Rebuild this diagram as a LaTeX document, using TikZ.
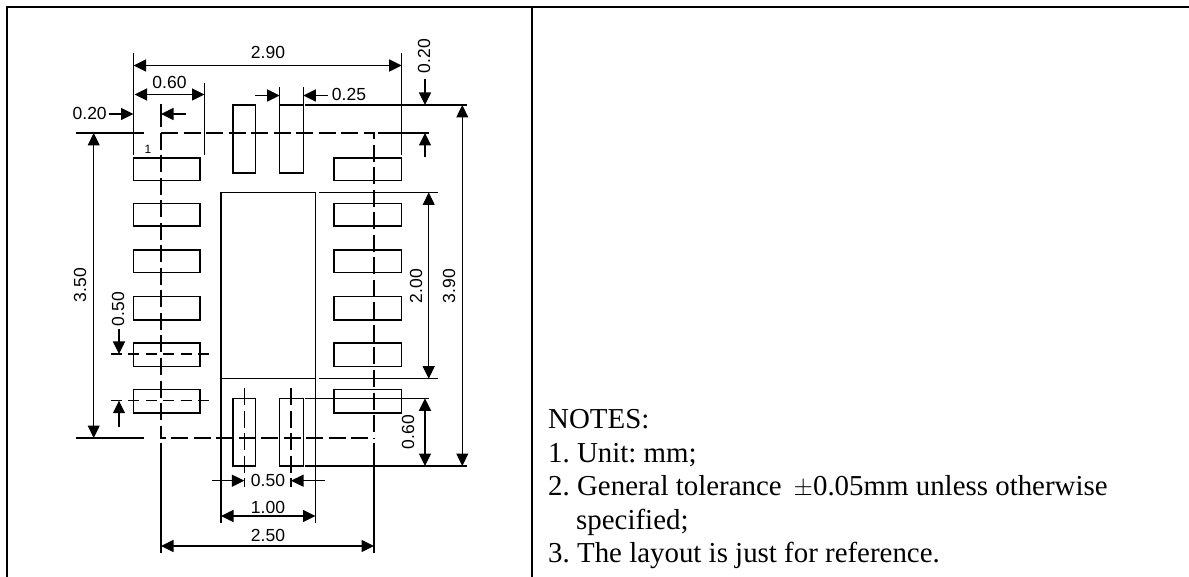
\documentclass[tikz,border=0pt]{standalone}
\usepackage{fontspec}
\setmainfont{Liberation Serif}
\newfontfamily\dimfont{Liberation Sans}
\usetikzlibrary{arrows.meta}
\tikzset{
  x=1pt,y=-1pt,
  frameline/.style={line width=2pt,black},
  thin line/.style={line width=1.2pt,black},
  padbox/.style={thin line},
  extline/.style={thin line},
  centerline/.style={thin line,dash pattern=on 17pt off 5.5pt},
  shortdash/.style={thin line,dash pattern=on 11pt off 6.5pt},
  dimline/.style={thin line,-{Triangle[length=12.5pt,width=12pt]}},
  dimboth/.style={thin line,{Triangle[length=12.5pt,width=12pt]}-{Triangle[length=12.5pt,width=12pt]}},
  dimtext/.style={font=\dimfont\fontsize{17.5}{20}\selectfont,inner sep=0pt,anchor=base,text=black},
  dimrot/.style={dimtext,rotate=90},
  notetext/.style={font=\frenchspacing\fontsize{28.9}{33.5}\selectfont,inner sep=0pt,anchor=base west,text=black},
}
\begin{document}
\begin{tikzpicture}
\useasboundingbox (0,0) rectangle (1189,577);
% frame
\draw[frameline] (7,577) -- (7,7) -- (1189,7);
\draw[frameline] (532,7) -- (532,577);
% pads
\foreach \y/\h in {158/22.5,203.5/22.5,250/22.5,296.5/23.5,343/23.5,389.5/23.5}{
  \draw[padbox] (133.5,\y) rectangle +(66.5,\h);
  \draw[padbox] (334,\y) rectangle +(67.7,\h);
}
\foreach \x/\w in {233/22.5,279.7/23.6}{
  \draw[padbox] (\x,105) rectangle +(\w,68);
  \draw[padbox] (\x,398.3) rectangle +(\w,67.7);
}
% exposed pad
\draw[extline] (221,192.5) -- (315.5,192.5);
\draw[extline] (221,378.7) -- (315.5,378.7);
\draw[extline] (221,192.5) -- (221,522.7);
\draw[extline] (315.5,192.5) -- (315.5,522.7);
\draw[extline] (319,192.5) -- (438,192.5);
\draw[extline] (319,378.7) -- (438,378.7);
% outline
\draw[centerline] (161,133) -- (374,133) -- (374,438);
\draw[centerline] (161,133) -- (161,438) -- (368,438);
\draw[extline] (75.7,133) -- (144,133);
\draw[extline] (75.7,438) -- (144,438);
\draw[extline] (378,133) -- (429,133);
\draw[extline] (161,104) -- (161,127);
\draw[extline] (161,443) -- (161,553.3);
\draw[extline] (374,443) -- (374,553.3);
% extension lines
\draw[extline] (133.5,53) -- (133.5,155);
\draw[extline] (204.5,83) -- (204.5,155);
\draw[extline] (401.7,53) -- (401.7,155);
\draw[extline] (279.7,87) -- (279.7,105);
\draw[extline] (303.3,87) -- (303.3,105);
\draw[extline] (305,105) -- (467,105);
\draw[extline] (305,398.3) -- (429,398.3);
\draw[extline] (305,466) -- (467,466);
% pin pitch and pad centre lines
\draw[shortdash] (110.7,354) -- (211,354);
\draw[shortdash] (110.7,400.7) -- (211,400.7);
\draw[centerline] (244.3,388.3) -- (244.3,487.3);
\draw[centerline] (291,388.3) -- (291,487.3);
% dimensions
\draw[dimboth] (133.5,65.5) -- (401.7,65.5);
\draw[dimboth] (134.5,94.5) -- (204.5,94.5);
\draw[dimline] (109,114) -- (133.5,114);
\draw[dimline] (186,114) -- (161,114);
\draw[dimline] (255,95.5) -- (279.7,95.5);
\draw[dimline] (328,95.5) -- (303.3,95.5);
\draw[dimline] (425,79) -- (425,105);
\draw[dimline] (425,157.5) -- (425,133);
\draw[dimboth] (462.3,105) -- (462.3,466);
\draw[dimboth] (428.7,192.5) -- (428.7,378.7);
\draw[dimboth] (425,398.3) -- (425,466);
\draw[dimboth] (93.7,133) -- (93.7,438);
\draw[dimline] (119,329) -- (119,354);
\draw[dimline] (119,426.7) -- (119,400.7);
\draw[dimline] (212,480.7) -- (244.3,480.7);
\draw[dimline] (325,480.7) -- (291,480.7);
\draw[dimboth] (221,516) -- (315.5,516);
\draw[dimboth] (161,546) -- (374,546);
% labels
\node[dimtext] (t290) at (268,59) {2.90};
\node[dimtext] (t060) at (169.5,89) {0.60};
\node[dimtext] (t020a) at (89.7,120) {0.20};
\node[dimtext] (t025) at (349,101) {0.25};
\node[dimrot] (t020b) at (430,56) {0.20};
\node[dimrot] (t390) at (455,286) {3.90};
\node[dimrot] (t200) at (422,286) {2.00};
\node[dimrot] (t060b) at (414,432) {0.60};
\node[dimrot] (t350) at (86,285) {3.50};
\node[dimrot] (t050) at (124,309) {0.50};
\node[dimtext] (t050b) at (268,486.7) {0.50};
\node[dimtext] (t100) at (268,513.3) {1.00};
\node[dimtext] (t250) at (268,541.7) {2.50};
\node[dimtext,font=\dimfont\fontsize{12}{13}\selectfont] (pin) at (148,154) {1};
% notes
\node[notetext] (n0) at (548,428) {NOTES:};
\node[notetext] (n1) at (548,462) {1. Unit: mm;};
\node[notetext] (n2) at (548,495.5) {2. General tolerance \,$\pm$0.05mm unless otherwise};
\node[notetext] (n2b) at (576,529) {specified;};
\node[notetext] (n3) at (548,562.5) {3. The layout is just for reference.};
\end{tikzpicture}
\end{document}
